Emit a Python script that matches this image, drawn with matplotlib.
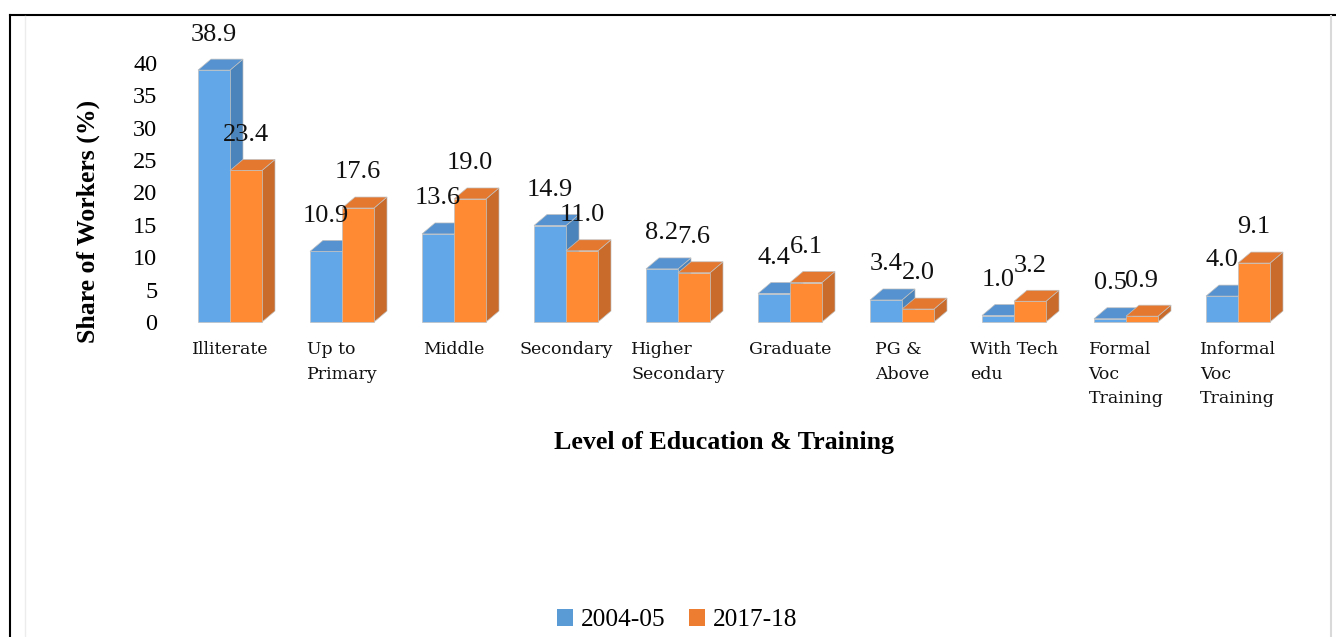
import matplotlib
matplotlib.use("Agg")
import matplotlib.pyplot as plt
from matplotlib.patches import Polygon, Rectangle
from matplotlib.lines import Line2D

categories = ["Illiterate", "Up to\nPrimary", "Middle", "Secondary", "Higher\nSecondary",
              "Graduate", "PG &\nAbove", "With Tech\nedu", "Formal\nVoc\nTraining",
              "Informal\nVoc\nTraining"]
series_names = ["2004-05", "2017-18"]
values_2004 = [38.9, 10.9, 13.6, 14.9, 8.2, 4.4, 3.4, 1.0, 0.5, 4.0]
values_2017 = [23.4, 17.6, 19.0, 11.0, 7.6, 6.1, 2.0, 3.2, 0.9, 9.1]
y_ticks = [0, 5, 10, 15, 20, 25, 30, 35, 40]

W, H = 1336, 637
fig = plt.figure(figsize=(W / 100, H / 100), dpi=100)
ax = fig.add_axes([174 / W, 1 - 322 / H, (1294 - 174) / W, (322 - 63) / H])
ax.set_xlim(-0.5, len(categories) - 0.5)
ax.set_ylim(0, 40)

front = ["#62A8E8", "#FF8A33"]
top = ["#5592CF", "#E5782F"]
side = ["#4A84BB", "#C96B2A"]
legend_col = ["#5B9BD5", "#ED7D31"]
edge = "#c0c0c0"

bw = 32 / 112
dx = 13 / 112
dy = 11 / 6.475

for i in range(len(categories)):
    for s, vals in enumerate([values_2004, values_2017]):
        v = vals[i]
        x0 = i - bw + s * bw
        x1 = x0 + bw
        # side face
        ax.add_patch(Polygon([(x1, 0), (x1 + dx, dy), (x1 + dx, v + dy), (x1, v)],
                             closed=True, facecolor=side[s], edgecolor=edge, lw=0.5,
                             clip_on=False, zorder=2 + i * 3 + s))
        # top face
        ax.add_patch(Polygon([(x0, v), (x0 + dx, v + dy), (x1 + dx, v + dy), (x1, v)],
                             closed=True, facecolor=top[s], edgecolor=edge, lw=0.5,
                             clip_on=False, zorder=2 + i * 3 + s))
        # front face
        ax.add_patch(Rectangle((x0, 0), bw, v, facecolor=front[s], edgecolor=edge, lw=0.5,
                               clip_on=False, zorder=2 + i * 3 + s))
        ax.text(x0 + bw / 2, v + dy + 3.8, f"{v:.1f}", ha="center", va="center",
                fontsize=19, family="Liberation Serif", color="#111111",
                clip_on=False, zorder=50)

for sp in ax.spines.values():
    sp.set_visible(False)
ax.set_yticks(y_ticks)
ax.set_yticklabels([str(t) for t in y_ticks], fontsize=17.5, family="Liberation Serif")
ax.tick_params(axis="y", length=0, pad=12)
ax.set_xticks(range(len(categories)))
ax.set_xticklabels(categories, fontsize=12.5, family="DejaVu Serif", linespacing=1.55,
                   color="#111111")
for lbl in ax.get_xticklabels():
    lbl.set_multialignment("left")
ax.tick_params(axis="x", length=0, pad=14)
ax.set_facecolor("none")

fig.text(724 / W, 1 - 442 / H, "Level of Education & Training", ha="center", va="center",
         fontsize=18.7, fontweight="bold", family="Liberation Serif")
fig.text(88 / W, 1 - 221 / H, "Share of Workers (%)", ha="center", va="center",
         rotation=90, fontsize=18.5, fontweight="bold", family="Liberation Serif")

handles = [Rectangle((0, 0), 1, 1, facecolor=c, edgecolor="none") for c in legend_col]
fig.legend(handles, series_names, loc="center", bbox_to_anchor=(677 / W, 1 - 620 / H),
           ncol=2, frameon=False, handlelength=0.65, handleheight=0.65,
           handletextpad=0.3, columnspacing=0.9,
           prop={"family": "Liberation Serif", "size": 18.3})

# frame lines
fig.add_artist(Line2D([10 / W, 1], [1 - 14.5 / H, 1 - 14.5 / H], color="black", lw=1.5,
                      transform=fig.transFigure))
fig.add_artist(Line2D([10 / W, 10 / W], [0, 1 - 14.5 / H], color="black", lw=1.5,
                      transform=fig.transFigure))
fig.add_artist(Line2D([1331 / W, 1331 / W], [0, 1 - 15.5 / H], color="#d9d9d9", lw=1.5,
                      transform=fig.transFigure))
fig.add_artist(Line2D([25 / W, 25 / W], [0, 1 - 15.5 / H], color="#ececec", lw=1.0,
                      transform=fig.transFigure))

fig.savefig("out.png", dpi=100)
